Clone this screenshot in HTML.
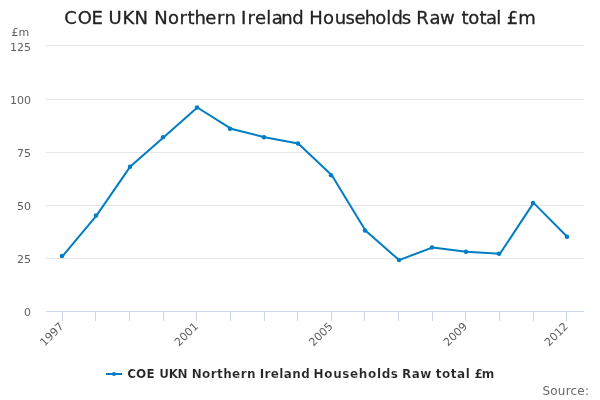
<!DOCTYPE html>
<html><head><meta charset="utf-8"><title>COE UKN Northern Ireland Households Raw total £m</title>
<style>
html,body{margin:0;padding:0;background:#fff;}
svg{display:block;font-family:"DejaVu Sans","Liberation Sans",sans-serif;}
</style></head><body>
<svg width="600" height="400" viewBox="0 0 600 400">
<rect x="0" y="0" width="600" height="400" fill="#ffffff"/>
<g><path d="M 46 45.5 L 584 45.5" stroke="#e6e6e6" stroke-width="1" fill="none"/>
<path d="M 46 99.5 L 584 99.5" stroke="#e6e6e6" stroke-width="1" fill="none"/>
<path d="M 46 152.5 L 584 152.5" stroke="#e6e6e6" stroke-width="1" fill="none"/>
<path d="M 46 205.5 L 584 205.5" stroke="#e6e6e6" stroke-width="1" fill="none"/>
<path d="M 46 258.5 L 584 258.5" stroke="#e6e6e6" stroke-width="1" fill="none"/>
</g>
<path d="M 46 311.5 L 584 311.5" stroke="#ccd6eb" stroke-width="1" fill="none"/>
<g><path d="M 62.5 311 L 62.5 321" stroke="#ccd6eb" stroke-width="1" fill="none"/>
<path d="M 95.5 311 L 95.5 321" stroke="#ccd6eb" stroke-width="1" fill="none"/>
<path d="M 129.5 311 L 129.5 321" stroke="#ccd6eb" stroke-width="1" fill="none"/>
<path d="M 163.5 311 L 163.5 321" stroke="#ccd6eb" stroke-width="1" fill="none"/>
<path d="M 196.5 311 L 196.5 321" stroke="#ccd6eb" stroke-width="1" fill="none"/>
<path d="M 230.5 311 L 230.5 321" stroke="#ccd6eb" stroke-width="1" fill="none"/>
<path d="M 264.5 311 L 264.5 321" stroke="#ccd6eb" stroke-width="1" fill="none"/>
<path d="M 297.5 311 L 297.5 321" stroke="#ccd6eb" stroke-width="1" fill="none"/>
<path d="M 331.5 311 L 331.5 321" stroke="#ccd6eb" stroke-width="1" fill="none"/>
<path d="M 364.5 311 L 364.5 321" stroke="#ccd6eb" stroke-width="1" fill="none"/>
<path d="M 398.5 311 L 398.5 321" stroke="#ccd6eb" stroke-width="1" fill="none"/>
<path d="M 432.5 311 L 432.5 321" stroke="#ccd6eb" stroke-width="1" fill="none"/>
<path d="M 465.5 311 L 465.5 321" stroke="#ccd6eb" stroke-width="1" fill="none"/>
<path d="M 499.5 311 L 499.5 321" stroke="#ccd6eb" stroke-width="1" fill="none"/>
<path d="M 533.5 311 L 533.5 321" stroke="#ccd6eb" stroke-width="1" fill="none"/>
<path d="M 566.5 311 L 566.5 321" stroke="#ccd6eb" stroke-width="1" fill="none"/>
</g>
<path d="M 62.81 255.88 L 96.44 215.60 L 130.06 166.84 L 163.69 137.16 L 197.31 107.48 L 230.94 128.68 L 264.56 137.16 L 298.19 143.52 L 331.81 175.32 L 365.44 230.44 L 399.06 260.12 L 432.69 247.40 L 466.31 251.64 L 499.94 253.76 L 533.56 202.88 L 567.19 236.80" fill="none" stroke="#007dc3" stroke-width="2" stroke-linejoin="round" stroke-linecap="round"/>
<g><circle cx="62" cy="255.88" r="2.25" fill="#007dc3"/>
<circle cx="96" cy="215.60" r="2.25" fill="#007dc3"/>
<circle cx="130" cy="166.84" r="2.25" fill="#007dc3"/>
<circle cx="163" cy="137.16" r="2.25" fill="#007dc3"/>
<circle cx="197" cy="107.48" r="2.25" fill="#007dc3"/>
<circle cx="230" cy="128.68" r="2.25" fill="#007dc3"/>
<circle cx="264" cy="137.16" r="2.25" fill="#007dc3"/>
<circle cx="298" cy="143.52" r="2.25" fill="#007dc3"/>
<circle cx="331" cy="175.32" r="2.25" fill="#007dc3"/>
<circle cx="365" cy="230.44" r="2.25" fill="#007dc3"/>
<circle cx="399" cy="260.12" r="2.25" fill="#007dc3"/>
<circle cx="432" cy="247.40" r="2.25" fill="#007dc3"/>
<circle cx="466" cy="251.64" r="2.25" fill="#007dc3"/>
<circle cx="499" cy="253.76" r="2.25" fill="#007dc3"/>
<circle cx="533" cy="202.88" r="2.25" fill="#007dc3"/>
<circle cx="567" cy="236.80" r="2.25" fill="#007dc3"/>
</g>
<text x="64.2 77.7 91.5 102.9 108.5 122.4 134.4 147.9 154.2 168.0 179.6 187.4 194.5 205.3 217.1 224.6 236.0 241.1 247.6 254.9 266.3 271.7 281.35 292.3 303.7 309.2 323.0 334.7 345.5 354.4 364.75 375.3 386.3 391.4 401.8 411.2 416.2 429.4 440.0 453.8 461.6 468.3 479.5 486.0 496.2 501.2 506.8 518.2" y="24" font-size="18px" fill="#222222" stroke="#222222" stroke-width="0.3">COE UKN Northern Ireland Households Raw total £m</text>
<text x="11.4" y="35.6" font-size="11px" fill="#606060">£m</text>
<g font-size="11px" fill="#606060"><text x="31" y="51.0" text-anchor="end">125</text>
<text x="31" y="104.0" text-anchor="end">100</text>
<text x="31" y="157.0" text-anchor="end">75</text>
<text x="31" y="210.0" text-anchor="end">50</text>
<text x="31" y="263.0" text-anchor="end">25</text>
<text x="31" y="316.0" text-anchor="end">0</text>
</g>
<g font-size="11px" fill="#606060"><text x="64.41" y="327" text-anchor="end" transform="rotate(-45 64.41 327)">1997</text>
<text x="198.91" y="327" text-anchor="end" transform="rotate(-45 198.91 327)">2001</text>
<text x="333.41" y="327" text-anchor="end" transform="rotate(-45 333.41 327)">2005</text>
<text x="467.91" y="327" text-anchor="end" transform="rotate(-45 467.91 327)">2009</text>
<text x="568.79" y="327" text-anchor="end" transform="rotate(-45 568.79 327)">2012</text>
</g>
<path d="M 106 374 L 122 374" stroke="#007dc3" stroke-width="2" fill="none"/>
<circle cx="114" cy="374" r="2" fill="#007dc3"/>
<text x="127.15 136.07 146.38 154.73 159.3 168.66 177.58 187.25 191.7 202.12 210.76 217.07 223.2 232.12 240.65 246.97 255.92 259.7 264.53 270.81 279.33 283.81 292.28 301.18 310.17 313.6 324.27 333.15 342.32 350.08 358.85 368.02 376.9 381.65 390.87 398.65 401.9 411.63 420.23 431.84 435.7 441.98 450.78 457.06 465.7 470.39 474.4 481.74" y="378" font-size="12px" font-weight="bold" fill="#262626" stroke="#ffffff" stroke-width="0.15">COE UKN Northern Ireland Households Raw total £m</text>
<text x="589" y="394.7" text-anchor="end" font-size="12px" fill="#6a6a6a" textLength="46.5" lengthAdjust="spacing">Source:</text>
</svg>
</body></html>
